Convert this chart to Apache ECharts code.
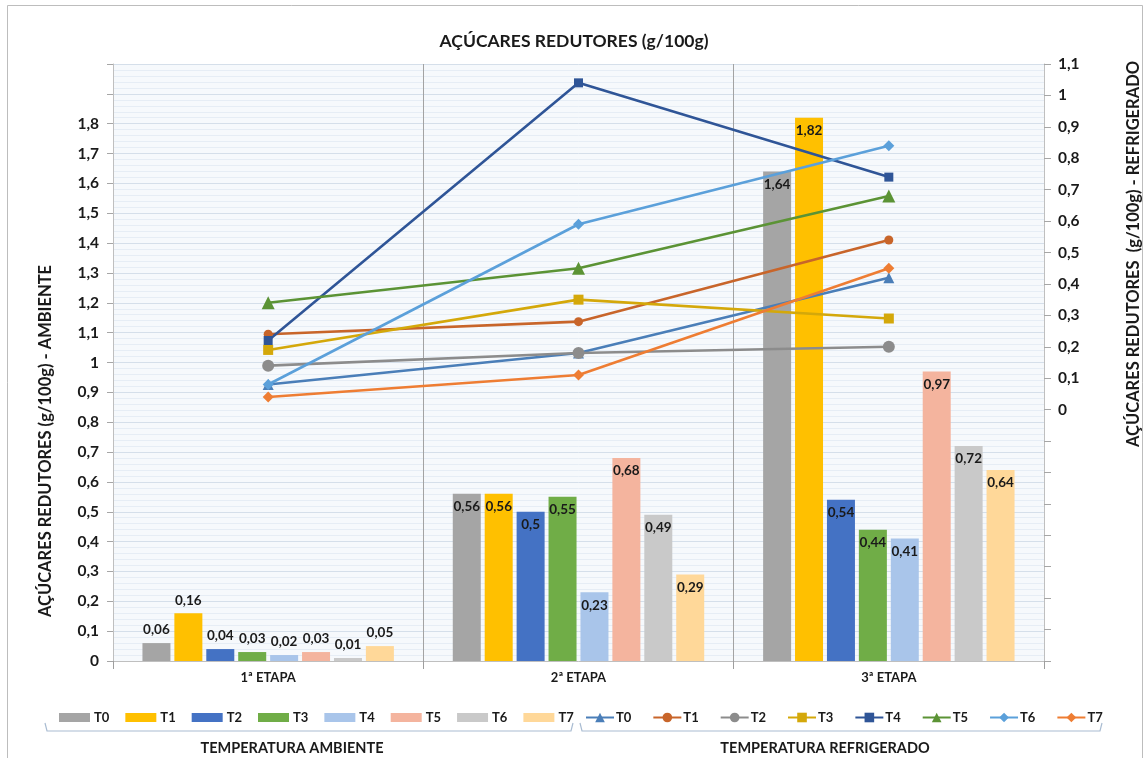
<!DOCTYPE html>
<html>
<head>
<meta charset="utf-8">
<script src="https://cdn.jsdelivr.net/npm/echarts@6/dist/echarts.min.js"></script>
<style>
  html, body { margin: 0; padding: 0; background: #ffffff; }
  #chart { width: 1148px; height: 758px; }
</style>
</head>
<body>
<div id="chart"></div>
<script>
// Stages on the category axis and treatment names
const stages = ['1ª ETAPA', '2ª ETAPA', '3ª ETAPA'];
const treatments = ['T0', 'T1', 'T2', 'T3', 'T4', 'T5', 'T6', 'T7'];

// Reducing sugars (g/100g) at room temperature – bars, left axis
const ambT0 = [0.06, 0.56, 1.64];
const ambT1 = [0.16, 0.56, 1.82];
const ambT2 = [0.04, 0.50, 0.54];
const ambT3 = [0.03, 0.55, 0.44];
const ambT4 = [0.02, 0.23, 0.41];
const ambT5 = [0.03, 0.68, 0.97];
const ambT6 = [0.01, 0.49, 0.72];
const ambT7 = [0.05, 0.29, 0.64];

// Reducing sugars (g/100g) under refrigeration – lines, right axis
const refT0 = [0.08, 0.18, 0.42];
const refT1 = [0.24, 0.28, 0.54];
const refT2 = [0.14, 0.18, 0.20];
const refT3 = [0.19, 0.35, 0.29];
const refT4 = [0.22, 1.04, 0.74];
const refT5 = [0.34, 0.45, 0.68];
const refT6 = [0.08, 0.59, 0.84];
const refT7 = [0.04, 0.11, 0.45];

// Axis ranges
const leftMin = 0, leftMax = 2.0, leftLabelMax = 1.8;
const rightMin = -0.8, rightMax = 1.1, rightLabelMin = 0;
const tickStep = 0.1;

const ambient = [ambT0, ambT1, ambT2, ambT3, ambT4, ambT5, ambT6, ambT7];
const refrigerated = [refT0, refT1, refT2, refT3, refT4, refT5, refT6, refT7];

const barColors = ['#A5A5A5', '#FFC000', '#4472C4', '#70AD47', '#A9C5EA', '#F4B49E', '#C9C9C9', '#FFD899'];
const lineColors = ['#4A7EB8', '#C8652A', '#8C8C8C', '#D4A80A', '#2F5597', '#5B9335', '#5BA0DA', '#EE7D33'];
const lineSymbols = ['triangle', 'circle', 'circle', 'rect', 'rect', 'triangle', 'diamond', 'diamond'];
const lineSymbolSizes = [11, 9, 12, 10, 9, 13, 11, 11];

const FONT = 'Lato, "Open Sans", sans-serif';
const INK = '#1A1A1A';

const fmt = v => String(Number(v.toFixed(2))).replace('.', ',');
const REF_SUFFIX = ' refrigerado';

const barSeries = treatments.map((t, i) => ({
  name: t,
  type: 'bar',
  yAxisIndex: 0,
  barWidth: 28,
  barGap: '14%',
  z: 2,
  itemStyle: { color: barColors[i] },
  label: {
    show: true,
    formatter: p => fmt(p.value),
    fontFamily: FONT,
    fontWeight: 'bold',
    fontSize: 13.5,
    color: INK,
    distance: 6
  },
  data: ambient[i].map((v, j) => ({
    value: v,
    label: { position: j === 0 ? 'top' : 'insideTop' }
  }))
}));

const lineSeries = treatments.map((t, i) => ({
  name: t + REF_SUFFIX,
  type: 'line',
  yAxisIndex: 1,
  z: 5,
  symbol: lineSymbols[i],
  symbolSize: lineSymbolSizes[i],
  lineStyle: { width: 2.6, color: lineColors[i] },
  itemStyle: { color: lineColors[i] },
  emphasis: { disabled: true },
  data: refrigerated[i]
}));

const chart = echarts.init(document.getElementById('chart'), null, { renderer: 'canvas' });

chart.setOption({
  animation: false,
  backgroundColor: '#ffffff',
  textStyle: { fontFamily: FONT },
  title: {
    text: 'AÇÚCARES REDUTORES (g/100g)',
    left: 'center',
    top: 27,
    textStyle: { fontFamily: FONT, fontWeight: 'bold', fontSize: 17.5, color: INK }
  },
  grid: {
    left: 113, right: 104, top: 64, bottom: 97,
    show: true, backgroundColor: '#F6F9FC', borderWidth: 0
  },
  legend: [
    {
      data: treatments,
      left: 54, top: 706,
      icon: 'rect',
      itemWidth: 31, itemHeight: 9, itemGap: 16,
      selectedMode: false,
      textStyle: { fontFamily: FONT, fontWeight: 'bold', fontSize: 13, color: INK, padding: [0, 0, 0, -1] }
    },
    {
      data: treatments.map(t => t + REF_SUFFIX),
      left: 580, top: 706,
      itemWidth: 28, itemHeight: 12, itemGap: 21,
      selectedMode: false,
      formatter: n => n.replace(REF_SUFFIX, ''),
      textStyle: { fontFamily: FONT, fontWeight: 'bold', fontSize: 13, color: INK, padding: [0, 0, 0, -3] }
    }
  ],
  xAxis: {
    type: 'category',
    data: stages,
    boundaryGap: true,
    axisLine: { show: true, lineStyle: { color: '#BFBFBF', width: 1 } },
    axisTick: { show: true, length: 8, lineStyle: { color: '#9E9E9E' } },
    splitLine: { show: true, lineStyle: { color: '#A3A3A3', width: 1 } },
    axisLabel: { fontFamily: FONT, fontWeight: 'bold', fontSize: 13, color: INK, margin: 10 }
  },
  yAxis: [
    {
      type: 'value',
      min: leftMin, max: leftMax, interval: tickStep,
      position: 'left',
      axisLine: { show: true, lineStyle: { color: '#BFBFBF' } },
      axisTick: { show: true, length: 6, lineStyle: { color: '#A6A6A6' } },
      axisLabel: {
        fontFamily: FONT, fontWeight: 'bold', fontSize: 15.5, color: INK, margin: 14,
        formatter: v => (v > leftLabelMax + 1e-6 ? '' : fmt(v))
      },
      splitLine: { show: true, lineStyle: { color: '#D5DFEA', width: 1 } },
      minorTick: { show: false, splitNumber: 5 },
      minorSplitLine: { show: true, lineStyle: { color: '#E6EDF5', width: 1 } }
    },
    {
      type: 'value',
      min: rightMin, max: rightMax, interval: tickStep,
      position: 'right',
      axisLine: { show: true, lineStyle: { color: '#BFBFBF' } },
      axisTick: { show: true, length: 7, lineStyle: { color: '#A6A6A6' } },
      axisLabel: {
        fontFamily: FONT, fontWeight: 'bold', fontSize: 15.5, color: INK, margin: 14,
        formatter: v => (v < rightLabelMin - 1e-6 ? '' : fmt(v))
      },
      splitLine: { show: false }
    }
  ],
  series: barSeries.concat(lineSeries),
  graphic: [
    // outer frame
    { type: 'rect', silent: true, shape: { x: 7.5, y: 5.5, width: 1135, height: 800 },
      style: { fill: 'none', stroke: '#BDBDBD', lineWidth: 1 } },
    // axis titles
    { type: 'text', x: 46, y: 441, rotation: Math.PI / 2, silent: true,
      style: { text: 'AÇÚCARES REDUTORES (g/100g) - AMBIENTE', font: 'bold 16.5px ' + FONT,
               fill: INK, textAlign: 'center', textVerticalAlign: 'middle' } },
    { type: 'text', x: 1134, y: 254, rotation: Math.PI / 2, silent: true,
      style: { text: 'AÇÚCARES REDUTORES  (g/100g) - REFRIGERADO', font: 'bold 16.5px ' + FONT,
               fill: INK, textAlign: 'center', textVerticalAlign: 'middle' } },
    // legend group brackets
    { type: 'polyline', silent: true, shape: { points: [[45, 723], [47, 731], [571, 731], [573, 723]] },
      style: { stroke: '#A9BCD2', lineWidth: 1.2, fill: 'none' } },
    { type: 'polyline', silent: true, shape: { points: [[580, 723], [582, 731], [1100, 731], [1102, 723]] },
      style: { stroke: '#A9BCD2', lineWidth: 1.2, fill: 'none' } },
    // legend group captions
    { type: 'text', x: 292, y: 748, silent: true,
      style: { text: 'TEMPERATURA AMBIENTE', font: 'bold 14.5px ' + FONT, fill: INK,
               textAlign: 'center', textVerticalAlign: 'middle' } },
    { type: 'text', x: 825, y: 748, silent: true,
      style: { text: 'TEMPERATURA REFRIGERADO', font: 'bold 14.5px ' + FONT, fill: INK,
               textAlign: 'center', textVerticalAlign: 'middle' } }
  ]
});
</script>
</body>
</html>
